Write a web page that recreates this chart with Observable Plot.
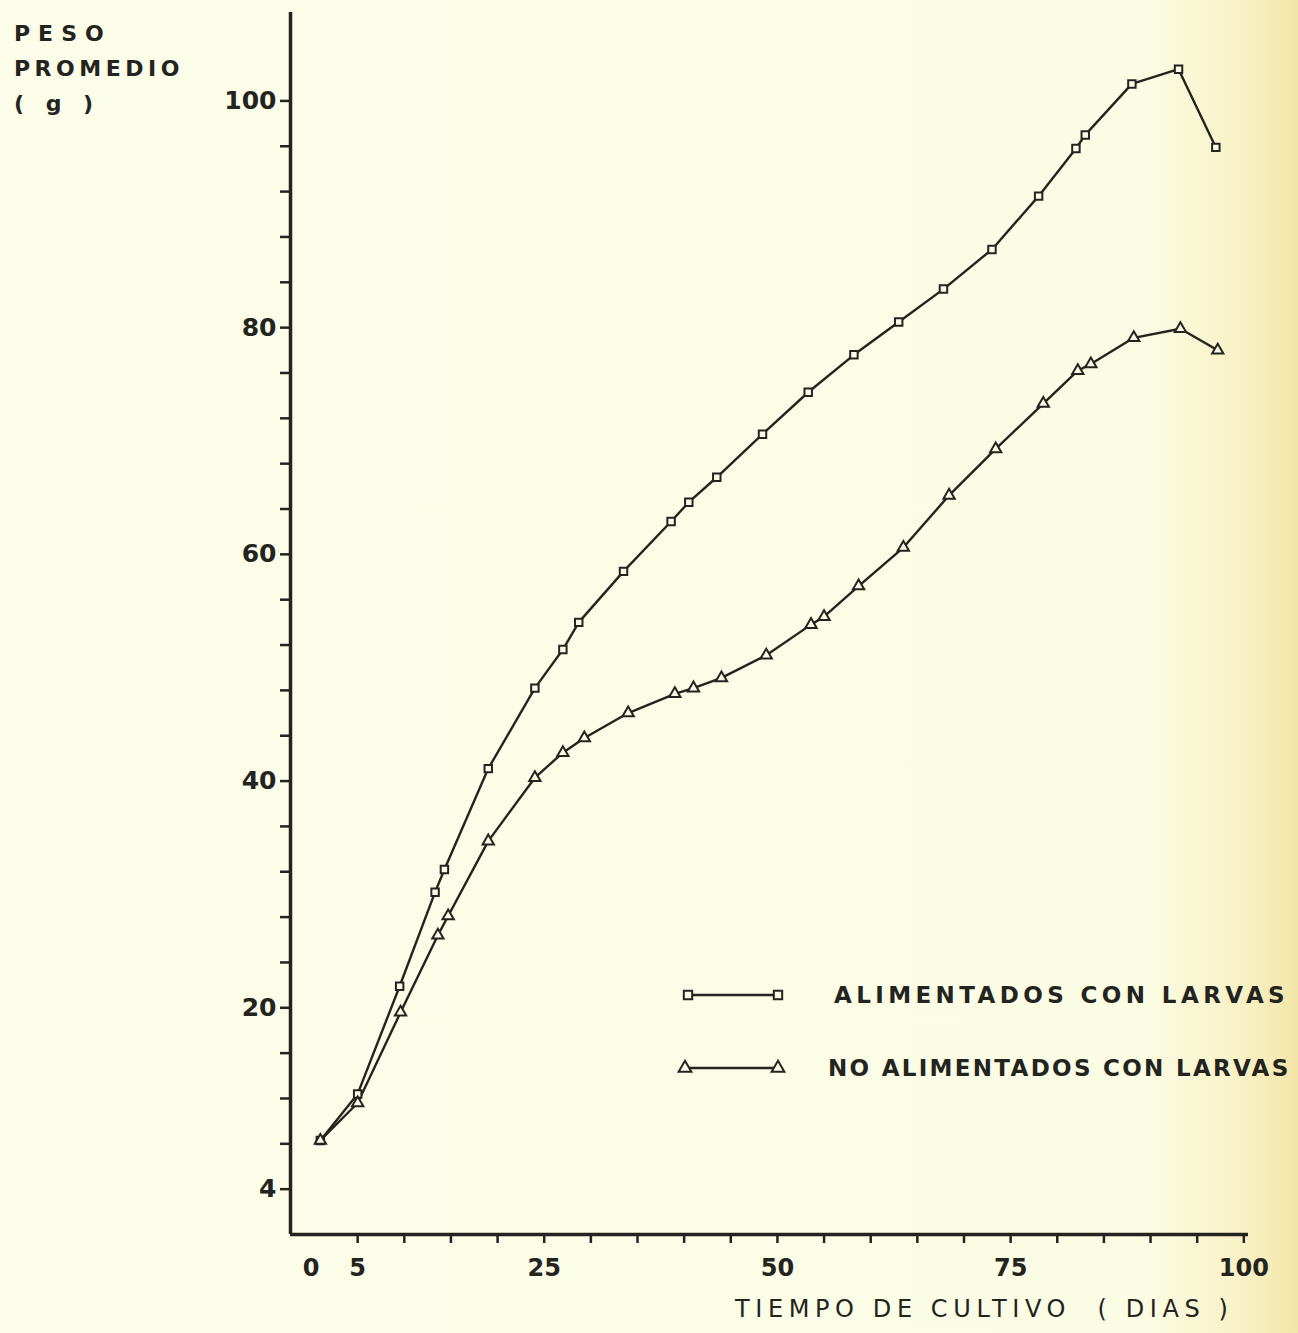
<!DOCTYPE html>
<html>
<head>
<meta charset="utf-8">
<script src="https://cdn.jsdelivr.net/npm/d3@7"></script>
<script src="https://cdn.jsdelivr.net/npm/@observablehq/plot@0.6"></script>
<style>
  html, body { margin: 0; padding: 0; }
  body {
    width: 1298px; height: 1333px; overflow: hidden; position: relative;
    background: linear-gradient(to right, #fcfde9 0%, #fbfce4 88%, #f8f1c4 96%, #f3e4a6 100%);
    font-family: "DejaVu Sans", sans-serif; color: #232320;
  }
  #chart { position: absolute; left: 0; top: 0; }
  .ylab { position: absolute; left: 14px; top: 16px; font-weight: bold; font-size: 22px; line-height: 35px; white-space: pre; }
  .xlab { position: absolute; left: 735px; top: 1295px; font-size: 24px; letter-spacing: 5.6px; white-space: pre; }
  #legend { position: absolute; left: 660px; top: 970px; }
</style>
</head>
<body>
<div id="chart"></div>
<div class="ylab"><div style="letter-spacing:8px">PESO</div><div style="letter-spacing:4.5px">PROMEDIO</div><div style="letter-spacing:7px">( g )</div></div>
<div class="xlab">TIEMPO DE CULTIVO  ( DIAS )</div>
<div id="legend"></div>
<script>
// ---- data ----
const seriesNames = ["ALIMENTADOS CON LARVAS", "NO ALIMENTADOS CON LARVAS"];
const daysLarvas = [1, 5, 9.5, 13.3, 14.3, 19, 24, 27, 28.7, 33.5, 38.6, 40.5, 43.5, 48.4, 53.3, 58.2, 63, 67.8, 73, 78, 82, 83, 88, 93, 97];
const weightLarvas = [8.3, 12.4, 21.9, 30.2, 32.2, 41.1, 48.2, 51.6, 54.0, 58.5, 62.9, 64.6, 66.8, 70.6, 74.3, 77.6, 80.5, 83.4, 86.9, 91.6, 95.8, 97.0, 101.5, 102.8, 95.9];
const daysNoLarvas = [1, 5, 9.6, 13.6, 14.7, 19, 24, 27, 29.3, 34, 39, 41, 44, 48.8, 53.6, 55, 58.7, 63.5, 68.4, 73.4, 78.5, 82.2, 83.6, 88.2, 93.2, 97.2];
const weightNoLarvas = [8.3, 11.6, 19.6, 26.4, 28.1, 34.7, 40.3, 42.5, 43.8, 46.0, 47.7, 48.2, 49.1, 51.1, 53.8, 54.5, 57.2, 60.6, 65.2, 69.3, 73.3, 76.2, 76.8, 79.1, 79.9, 78.0];
const xMinorTicks = d3.range(5, 101, 5);
const xTickLabels = [0, 5, 25, 50, 75, 100];
const yMinorTicks = d3.range(4, 101, 4);
const yTickLabels = [4, 20, 40, 60, 80, 100];
const xDomain = [-2.2, 100.5];
const yDomain = [0, 107.8];

const larvas = daysLarvas.map((d, i) => ({day: d, w: weightLarvas[i]}));
const noLarvas = daysNoLarvas.map((d, i) => ({day: d, w: weightNoLarvas[i]}));

const ink = "#232320";
const paper = "#fcfde8";

const chart = Plot.plot({
  width: 1298,
  height: 1333,
  marginLeft: 290,
  marginRight: 50,
  marginTop: 12,
  marginBottom: 99,
  x: {domain: xDomain},
  y: {domain: yDomain},
  style: {background: "transparent", color: ink, fontFamily: "DejaVu Sans, sans-serif"},
  marks: [
    Plot.ruleX([xDomain[0]], {y1: yDomain[0], y2: yDomain[1], stroke: ink, strokeWidth: 3.5}),
    Plot.ruleY([yDomain[0]], {x1: xDomain[0], x2: xDomain[1], stroke: ink, strokeWidth: 3.5}),
    Plot.axisY({ticks: yMinorTicks, tickSize: 10, tickFormat: () => "", strokeWidth: 2.5, stroke: ink, label: null}),
    Plot.axisY({ticks: yTickLabels, tickSize: 0, tickPadding: 14, fontSize: 25, fontWeight: "bold", fill: ink, label: null}),
    Plot.axisX({ticks: xMinorTicks, tickSize: 9, tickFormat: () => "", strokeWidth: 2.5, stroke: ink, label: null}),
    Plot.axisX({ticks: xTickLabels, tickSize: 0, tickPadding: 24, fontSize: 24, fontWeight: "bold", fill: ink, label: null}),
    Plot.line(larvas, {x: "day", y: "w", stroke: ink, strokeWidth: 2.4}),
    Plot.line(noLarvas, {x: "day", y: "w", stroke: ink, strokeWidth: 2.4}),
    Plot.dot(larvas, {x: "day", y: "w", symbol: "square", r: 4.2, stroke: ink, strokeWidth: 2, fill: paper}),
    Plot.dot(noLarvas, {x: "day", y: "w", symbol: "triangle", r: 4.2, stroke: ink, strokeWidth: 2, fill: paper})
  ]
});
document.getElementById("chart").append(chart);

// ---- legend ----
const lg = d3.select("#legend").append("svg").attr("width", 638).attr("height", 120);
const rows = [
  {name: seriesNames[0], sym: d3.symbolSquare, y: 25, x1: 28, x2: 118, tx: 174, ls: 4.4},
  {name: seriesNames[1], sym: d3.symbolTriangle, y: 98, x1: 25, x2: 118, tx: 168, ls: 2.3}
];
rows.forEach(r => {
  lg.append("line").attr("x1", r.x1).attr("x2", r.x2).attr("y1", r.y).attr("y2", r.y)
    .attr("stroke", ink).attr("stroke-width", 2.4);
  [r.x1, r.x2].forEach(x => {
    lg.append("path").attr("d", d3.symbol(r.sym, 70)()).attr("transform", `translate(${x},${r.y})`)
      .attr("fill", paper).attr("stroke", ink).attr("stroke-width", 2);
  });
  lg.append("text").attr("x", r.tx).attr("y", r.y).attr("dy", "0.36em")
    .attr("font-size", 23).attr("font-weight", "bold").attr("letter-spacing", r.ls)
    .attr("fill", ink).text(r.name);
});
</script>
</body>
</html>
